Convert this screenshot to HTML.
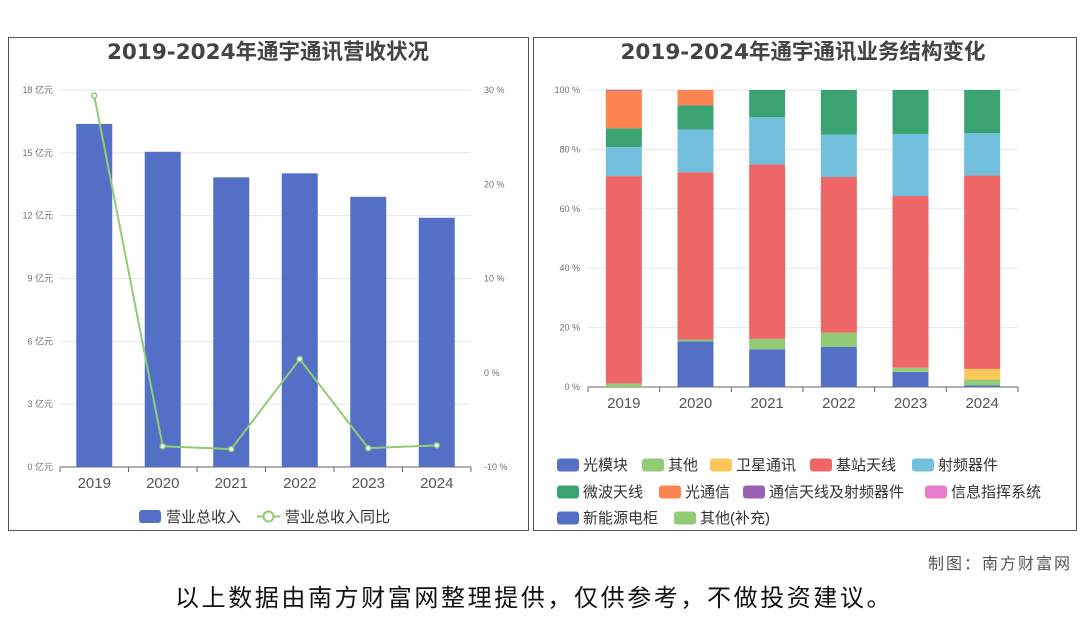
<!DOCTYPE html>
<html><head><meta charset="utf-8"><style>
body{margin:0;background:#fff;}
svg text{font-family:"Liberation Sans","Noto Sans CJK SC",sans-serif;}
svg text.dv{font-family:"DejaVu Sans","Noto Sans CJK SC",sans-serif;}
</style></head><body>
<svg id="root" width="1080" height="614" viewBox="0 0 1080 614" xmlns="http://www.w3.org/2000/svg">
<rect x="0" y="0" width="1080" height="614" fill="#fff"/>
<rect x="8.5" y="37.5" width="520" height="493" fill="none" stroke="#555"/>
<rect x="533.5" y="37.5" width="543" height="493" fill="none" stroke="#555"/>
<text class="dv" x="268" y="59" text-anchor="middle" font-size="21.5" font-weight="bold" fill="#444">2019-2024年通宇通讯营收状况</text>
<text class="dv" x="803" y="59" text-anchor="middle" font-size="21.5" font-weight="bold" fill="#444">2019-2024年通宇通讯业务结构变化</text>
<g id="left"></g>
<g id="right"></g>
<g>
<rect x="139" y="510" width="22" height="13" rx="3" fill="#5470c6"/>
<text x="166" y="522" font-size="15" fill="#333">营业总收入</text>
<line x1="257" y1="516.5" x2="280" y2="516.5" stroke="#91cc75" stroke-width="2"/>
<circle cx="268.5" cy="516.5" r="5" fill="#fff" stroke="#91cc75" stroke-width="2"/>
<text x="285" y="522" font-size="15" fill="#333">营业总收入同比</text>
</g>
<g id="rlegend"></g>
<text x="1072" y="569" text-anchor="end" font-size="16" letter-spacing="2" fill="#555">制图：南方财富网</text>
<text x="175" y="606" font-size="24" letter-spacing="2.6" fill="#111">以上数据由南方财富网整理提供，仅供参考，不做投资建议。</text>
</svg>
<script>
const NS="http://www.w3.org/2000/svg";
const years=["2019","2020","2021","2022","2023","2024"];
const revenue=[16.38,15.05,13.83,14.02,12.9,11.9];
const yoy=[29.4,-7.8,-8.1,1.45,-8.0,-7.7];
const leftTicks=[0,3,6,9,12,15,18];
const rightTicks=[-10,0,10,20,30];
const seriesNames=["光模块","其他","卫星通讯","基站天线","射频器件","微波天线","光通信","通信天线及射频器件","信息指挥系统","新能源电柜","其他(补充)"];
const seriesColors=["#5470c6","#91cc75","#fac858","#ee6666","#73c0de","#3ba272","#fc8452","#9a60b4","#ea7ccc","#5470c6","#91cc75"];
const sGuang=[0,15.4,12.7,13.5,5.1,0.5];
const sQita=[1.2,0.6,3.5,4.8,1.4,2.0];
const sWeixing=[0,0,0,0,0,3.6];
const sJizhan=[69.8,56.3,58.7,52.4,57.8,65.1];
const sShepin=[9.8,14.4,16.0,14.3,20.9,14.3];
const sWeibo=[6.3,8.1,9.1,15.0,14.8,14.5];
const sGuangtx=[12.7,5.2,0,0,0,0];
const sTongxin=[0.3,0,0,0,0,0];
const sXinxi=[0,0,0,0,0,0];
const sXinneng=[0,0,0,0,0,0];
const sQitaBu=[0,0,0,0,0,0];
const pctTicks=[0,20,40,60,80,100];

function el(tag,attrs,parent){const e=document.createElementNS(NS,tag);for(const k in attrs)e.setAttribute(k,attrs[k]);parent.appendChild(e);return e;}

const L=document.getElementById('left');
const lx0=60,lx1=471,ly0=467,ly1=90;
const bw=(lx1-lx0)/years.length;
const yL=v=>ly0-(v/18)*(ly0-ly1);
const yR=v=>ly0-((v+10)/40)*(ly0-ly1);
const xL=i=>lx0+bw*(i+0.5);
leftTicks.forEach(t=>{
  const g=el('line',{x1:lx0,x2:lx1,y1:yL(t),y2:yL(t),stroke:t===0?'#666':'#e0e6f1'},L);
  
  
  const tx=el('text',{x:53,y:yL(t)+3,'text-anchor':'end','font-size':9,fill:'#6e7079'},L);
  tx.textContent=t+' 亿元';
  
  
});
rightTicks.forEach(t=>{
  const tx=el('text',{x:484,y:yR(t)+3,'font-size':9,fill:'#6e7079'},L);
  tx.textContent=t+' %';
  
  
});
years.forEach((y,i)=>{
  const tk=el('line',{x1:lx0+bw*i,x2:lx0+bw*i,y1:ly0,y2:ly0+5,stroke:'#666'},L);
  
  
  const b=el('rect',{x:xL(i)-18,y:yL(revenue[i]),width:36,height:ly0-yL(revenue[i]),fill:'#5470c6'},L);
  
  
  const tx=el('text',{x:xL(i),y:488,'text-anchor':'middle','font-size':15,fill:'#555'},L);
  tx.textContent=y;
  
  
});
el('line',{x1:lx1,x2:lx1,y1:ly0,y2:ly0+5,stroke:'#666'},L);
const pl=el('polyline',{points:yoy.map((v,i)=>xL(i)+','+yR(v)).join(' '),fill:'none',stroke:'#91cc75','stroke-width':2},L);


yoy.forEach((v,i)=>{
  const c=el('circle',{cx:xL(i),cy:yR(v),r:2.5,fill:'#fff',stroke:'#91cc75','stroke-width':1.5},L);
  
  
});

const R=document.getElementById('right');
const rx0=588,rx1=1018,ry0=387,ry1=90;
const rbw=(rx1-rx0)/years.length;
const yP=v=>ry0-(v/100)*(ry0-ry1);
const xR=i=>rx0+rbw*(i+0.5);
pctTicks.forEach(t=>{
  const g=el('line',{x1:rx0,x2:rx1,y1:yP(t),y2:yP(t),stroke:t===0?'#666':'#e0e6f1'},R);
  
  
  const tx=el('text',{x:580,y:yP(t)+3,'text-anchor':'end','font-size':9,fill:'#6e7079'},R);
  tx.textContent=t+' %';
  
  
});
const series=[sGuang,sQita,sWeixing,sJizhan,sShepin,sWeibo,sGuangtx,sTongxin,sXinxi,sXinneng,sQitaBu];
years.forEach((y,i)=>{
  const tk=el('line',{x1:rx0+rbw*i,x2:rx0+rbw*i,y1:ry0,y2:ry0+5,stroke:'#666'},R);
  
  
  let acc=0;
  series.forEach((s,k)=>{
    const v=s[i]; if(!v) return;
    const r=el('rect',{x:xR(i)-18,y:yP(acc+v),width:36,height:yP(acc)-yP(acc+v),fill:seriesColors[k]},R);
    
    
    acc+=v;
  });
  const tx=el('text',{x:xR(i),y:408,'text-anchor':'middle','font-size':15,fill:'#555'},R);
  tx.textContent=y;
  
  
});
el('line',{x1:rx1,x2:rx1,y1:ry0,y2:ry0+5,stroke:'#666'},R);

const RL=document.getElementById('rlegend');
const legPos=[[557,465],[642,465],[710,465],[810,465],[912,465],[557,492],[659,492],[743,492],[925,492],[557,518],[674,518]];
seriesNames.forEach((n,k)=>{
  const [x,y]=legPos[k];
  const r=el('rect',{x:x,y:y-6.5,width:22,height:13,rx:3,fill:seriesColors[k]},RL);
  
  
  const t=el('text',{x:x+26,y:y+5,'font-size':15,fill:'#333'},RL);
  t.textContent=n;
  
  
});
</script>
</body></html>
